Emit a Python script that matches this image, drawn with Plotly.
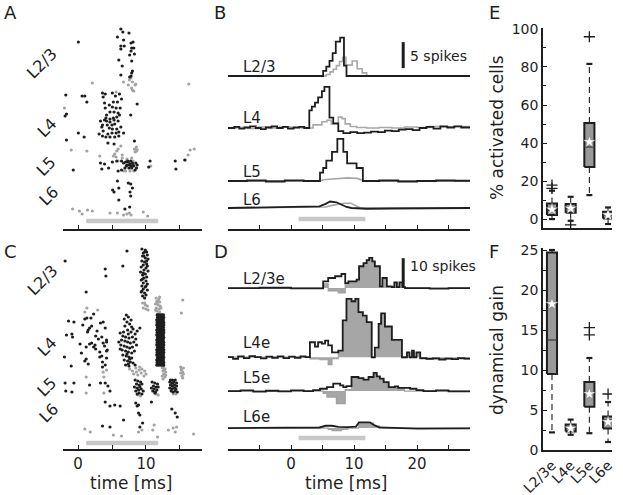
import plotly.graph_objects as go

W, H = 623, 495
FONT = "DejaVu Sans"
DARK = "#1e1e1e"
GRAY = "#a8a8a8"
BARC = "#c8c8c8"
BOXFILL = "#999999"

# ------------------------------------------------------------------ DATA
stim_window = [1.2, 11.8]          # stimulus (ms)

# Panel A raster: (time ms, neuron index)
A_black = [
 (6.3,200),(6.6,197),(7.5,196),(0.05,187),(5.8,192),(6.7,189),(7.8,186),(8.1,187),(6.3,183),(6.8,183),
 (7.9,181),(8.2,181),(6.3,180),(7.8,178),(7.6,174),(8.3,175),(6.0,169),(7.9,168),(6.5,163),(8.0,158),
 (7.9,156),(6.3,154),(7.8,153),(7.6,152),
 (-1.8,134),(0.6,133),(1.0,133),(1.3,127),(3.7,132),(4.0,135),(5.05,136),(5.5,133),(6.1,135),(6.4,130),
 (8.7,125),(3.9,126),(4.6,124),(5.2,127),(5.8,127),(5.05,122),(5.6,121),(6.2,121),(4.7,117),(5.3,117),
 (5.9,116),(6.1,114),(7.75,114),(-1.7,115),(-1.9,113),(4.0,121),(4.2,114),(4.1,111),(4.7,110),(5.2,111),
 (5.7,112),(3.6,136),
 (3.3,108),(3.9,109),(4.2,108),(4.7,107),(5.3,109),(5.9,108),(3.6,104),(4.3,104),(5.0,104),(5.4,105),
 (3.5,102),(4.6,101),(5.05,100),(5.7,100),(6.3,102),(6.7,96),(3.1,95),(3.7,98),(4.4,95),(5.0,96),
 (5.6,96),(6.0,97),(3.6,93),(4.1,92),(4.7,92),(5.4,92),(6.0,93),(0.05,96),(0.9,92),(-1.7,89),
 (4.4,86),(5.3,85),(8.3,88),
 (3.3,66),(3.9,65),(5.05,67),(5.7,68),(6.4,68),(7.0,67),(7.4,67),(7.75,68),(8.0,66),(8.5,66),
 (8.7,64),(7.2,64),(7.55,64),(8.2,63),(7.9,61),(8.6,61),(6.9,61),(6.4,59),(5.9,58),(3.5,60),
 (4.5,61),(10.6,68),(10.4,62),(14.3,68),(15.7,69),(14.4,60),(-0.7,59),
 (7.3,68),(7.65,65),(8.1,64),(7.8,63),(7.5,61),(8.4,59),(6.7,66),(7.1,63),
 (5.8,48),(5.1,39),(5.3,37),(6.0,41),(7.4,46),(7.75,45),(8.0,41),(7.65,37),(7.75,33),(6.0,29),
 (7.6,22),(6.9,20)]
A_gray = [
 (2.1,146),(6.7,147),(7.55,149),(7.75,151),(8.0,147),(8.4,144),(8.5,145),(7.4,144),(8.0,139),(8.2,138),
 (7.9,141),(16.3,145),(5.6,137),(-2.0,121),
 (-1.0,79),(1.3,78),(5.7,78),(5.9,80),(6.3,83),(5.4,75),(6.5,74),(8.4,80),(8.7,79),(8.6,78),
 (3.2,73),(5.2,73),(5.6,72),(6.5,71),(7.2,70),(7.9,71),(8.1,68),(6.7,58),(7.0,58),(7.65,58),
 (8.2,58),(10.7,63),(16.5,79),(17.1,80),(16.2,74),(15.8,69),(8.3,80),(8.6,82),(8.4,77),(5.9,68),
 (-0.8,20),(0.2,18),(0.6,15),(1.4,19),(2.1,18),(4.7,16),(5.8,16),(6.7,14),(7.2,15),(7.55,16),
 (7.8,14),(9.6,17),(10.25,13)]

# Panel C raster: (time ms, neuron index)
C_black = [
 (9.4,200),(9.9,199),(10.1,197),(9.6,196),(10.2,194),(9.5,193),(9.9,191),(10.3,190),(9.4,188),(9.8,187),
 (10.1,185),(9.6,184),(9.3,182),(10.0,181),(9.7,179),(10.3,178),(9.2,177),(9.9,175),(9.5,174),(10.1,172),
 (9.7,171),(9.3,169),(10.0,168),(9.6,166),(10.2,165),(9.4,163),(9.9,162),(9.6,160),(10.2,159),(9.3,157),
 (9.8,156),(10.0,154),(9.5,153),(9.8,151),(10.1,188),(9.7,193),(9.5,170),(10.0,163),(9.8,197),(9.4,158),
 (10.2,183),(9.6,176),
 (-1.9,188),(7.2,198),(6.6,183),(4.0,180),(4.1,173),(1.2,157),
 (1.0,130),(1.3,131),(1.9,131),(2.3,135),(-1.4,128),(-0.6,127),(3.7,127),(3.3,126),(4.0,121),(2.0,123),
 (1.7,121),(-0.9,115),(-1.7,114),(-0.8,112),(1.4,117),(0.3,105),(1.2,102),(1.7,105),(2.0,106),(2.3,102),
 (2.6,100),(2.5,104),(3.2,97),(3.5,112),(3.7,106),(3.9,103),(4.2,107),(4.2,98),(-2.0,92),(-1.0,83),
 (1.0,88),(1.5,85),(3.5,93),(3.6,87),(3.6,82),(3.3,66),(4.0,66),(4.4,63),(4.7,58),(-0.6,66),
 (-1.9,66),(-1.8,58),(-0.9,57),(1.7,64),
 (4.2,109),(4.3,99),(1.2,90),(3.2,92),(4.2,91),(4.0,84),(0.7,124),(2.8,118),(3.0,110),(1.5,119),
 (2.6,113),(0.5,96),
 (7.1,134),(7.4,132),(6.8,130),(7.8,129),(7.2,127),(7.6,125),(6.9,123),(7.9,122),(8.1,120),(7.3,119),
 (6.7,117),(7.8,117),(7.4,115),(8.4,115),(8.7,118),(9.1,121),
 (6.2,116),(6.6,113),(7.0,112),(7.5,111),(8.0,112),(6.4,109),(6.9,108),(7.3,107),(7.7,106),(8.2,107),
 (6.3,104),(6.8,103),(7.2,102),(7.6,101),(8.0,102),(6.5,99),(7.0,98),(7.4,97),(7.9,96),(8.3,98),
 (6.6,94),(7.1,93),(7.5,92),(7.9,91),(6.8,89),(7.3,88),(7.7,87),(8.1,86),(7.0,84),(7.5,83),
 (8.4,84),(6.2,100),(8.6,104),(8.5,110),(6.0,107),(7.2,95),(7.6,90),(7.4,85),
 (8.4,69),(8.8,68),(9.2,67),(8.6,65),(9.0,64),(9.4,65),(8.3,62),(8.7,61),(9.1,62),(8.9,59),
 (9.3,60),(8.5,58),(9.6,58),(9.0,56),(8.7,55),(9.4,55),
 (10.9,67),(11.3,66),(11.7,65),(11.1,63),(11.5,62),(10.8,61),(11.2,60),(11.6,59),(11.0,58),(11.4,57),
 (11.8,62),(11.3,56),
 (13.6,69),(13.9,69),(14.3,69),(13.5,67),(13.8,66),(14.1,67),(14.5,66),(13.6,64),(13.9,63),(14.2,64),
 (14.5,63),(13.5,61),(13.8,60),(14.1,61),(14.4,60),(13.7,58),(14.0,57),(14.3,58),(14.6,57),(13.9,66),
 (14.2,61),
 (4.0,47),(4.7,43),(5.4,44),(6.2,43),(6.7,29),(3.6,23),(4.7,22),(8.7,43),(8.9,36),(9.1,34),
 (9.5,26),(9.1,22),(10.8,47),(13.8,40),(14.3,36),(14.6,32),(8.5,46),(8.9,44)]
# dense burst in C (neuron index -> spike times)
C_block = {
 84:[11.6,11.85,12.1,12.35,12.6], 86.5:[11.65,11.9,12.15,12.4,12.6], 89:[11.6,11.8,12.1,12.35,12.55],
 91.5:[11.7,11.9,12.15,12.4,12.6], 94:[11.6,11.85,12.1,12.3,12.55], 96.5:[11.65,11.9,12.2,12.4,12.6],
 99:[11.6,11.85,12.1,12.35,12.6], 101.5:[11.7,11.95,12.15,12.4,12.55], 104:[11.6,11.85,12.1,12.35,12.6],
 106.5:[11.65,11.9,12.15,12.4,12.6], 109:[11.6,11.8,12.1,12.35,12.55], 111.5:[11.7,11.9,12.2,12.4,12.6],
 114:[11.6,11.85,12.1,12.3,12.55], 116.5:[11.65,11.9,12.15,12.4,12.6], 119:[11.6,11.85,12.1,12.35,12.6],
 121.5:[11.7,11.95,12.15,12.4,12.55], 124:[11.6,11.85,12.1,12.35,12.6], 126.5:[11.65,11.9,12.15,12.4,12.6],
 129:[11.6,11.8,12.1,12.35,12.55], 131.5:[11.7,11.9,12.2,12.4,12.6], 134:[11.65,11.9,12.1,12.35,12.55]}
C_gray = [
 (11.5,151),(11.9,150),(11.6,148),(12.0,147),(11.4,145),(11.8,144),(12.1,143),(11.5,141),(11.9,140),(11.6,138),
 (12.0,137),(11.7,135),(11.4,139),(12.2,141),(11.8,148),(11.6,146),(12.0,152),
 (9.5,146),(9.9,144),(10.2,143),(9.6,141),(10.0,140),(9.8,146),(10.3,139),
 (15.4,149),(15.2,136),(1.3,141),(2.9,139),(1.0,137),
 (12.4,81),(12.8,80),(12.5,78),(12.9,77),(12.6,75),(12.4,73),(12.8,72),(12.5,70),(12.9,74),(12.7,79),(12.6,82),
 (15.1,82),(15.5,81),(15.2,79),(15.4,77),(15.1,76),(15.5,75),(15.3,73),(15.2,80),(15.4,71),
 (7.6,80),(8.0,78),(8.5,81),(9.0,79),(9.4,80),(9.8,78),(8.2,75),(8.8,74),(9.3,76),(9.7,73),
 (8.6,77),(10.0,75),(9.1,82),
 (3.7,77),(3.8,72),(1.2,72),(1.2,56),(3.8,56),(4.2,79),
 (11.5,55),(11.8,54),(14.0,55),(14.4,55),(8.8,54),(9.2,53),
 (1.0,20),(1.8,17),(5.2,14),(6.4,13),(9.4,19),(11.0,19),(11.2,24),(11.7,12),(13.3,19),(14.0,21),
 (14.3,17),(14.5,22),(17.0,15),(8.9,17)]
raster_layers = ["L2/3", "L4", "L5", "L6"]

# Panel B PSTHs: (time ms, spikes above baseline)
B_L23_black = [(-10,0),(5.1,1.0),(5.6,1.8),(6.1,2.9),(6.6,4.4),(7.1,6.6),(7.8,7.4),(8.4,2.0),(8.8,0),(28.4,0)]
B_L23_gray = [(-10,0),(5.6,0.3),(6.2,0.8),(6.7,1.3),(7.2,2.0),(7.7,2.8),(8.2,3.6),(8.7,2.1),(9.7,2.9),
              (10.5,1.4),(11.3,0.6),(12.0,0),(28.4,0)]
B_L4_black = [(-10,0),(-9,0.2),(-8.2,-0.1),(-7.4,0.1),(-6.5,0.3),(-5.6,0),(-4.8,-0.2),(-4.0,0.1),(-3.1,0.3),
              (-2.2,0),(-1.3,0.2),(-0.5,-0.1),(0.4,0.1),(1.3,0.2),(2.1,0),(2.9,3.4),(3.3,4.1),(3.8,4.9),
              (4.3,5.9),(4.9,7.1),(5.3,7.9),(6.1,2.0),(6.7,0.9),(7.5,-0.6),(8.3,-1.0),(9.4,-0.8),(10.5,-1.0),
              (11.6,-0.9),(12.7,-0.7),(13.8,-0.8),(14.9,-0.5),(16.0,-0.6),(17.1,-0.3),(18.2,-0.2),(19.3,-0.4),
              (20.4,0.0),(21.5,0.2),(22.6,-0.1),(23.7,0.3),(24.8,0.1),(25.9,0.3),(27.0,0.1),(28.4,0.1)]
B_L4_gray = [(-10,0),(-8.6,0.1),(-6.9,-0.1),(-5.2,0.2),(-3.5,0),(-1.8,0.2),(0.0,0.1),(1.7,0),(3.5,0.6),
             (4.9,1.2),(5.7,1.5),(6.4,0.8),(7.5,2.1),(8.1,1.8),(8.6,0.8),(9.4,0.3),(10.4,0.1),(12.0,0.0),
             (14.0,0.1),(16.0,0.0),(18.0,0.2),(20.0,0.1),(22.0,0.3),(24.0,0.2),(26.0,0.3),(28.4,0.2)]
B_L5_black = [(-10,0),(-7,0.1),(-4,-0.1),(-1,0.1),(2,0),(4.6,1.6),(5.1,2.5),(5.6,3.9),(6.5,5.6),(7.35,8.1),
              (8.3,5.6),(8.9,3.4),(10.4,2.5),(11.4,0),(14,0.1),(17,-0.1),(20,0.0),(23,0.1),(26,0.05),(28.4,0.05)]
B_L5_gray = [(-10,0),(4.6,0.1),(5.5,0.3),(6.5,0.4),(7.5,0.5),(9.0,0.6),(10.5,0.5),(11.5,0.1),(12.5,0),(28.4,0)]
B_L6_black = [(-10,0),(4.5,0.3),(5.5,0.8),(6.2,1.25),(7.2,1.1),(8.0,0.6),(8.8,0.2),(9.6,0),(12,-0.15),
              (16,-0.1),(20,-0.05),(28.4,0)]
B_L6_gray = [(-10,0),(5.5,0.2),(6.5,0.5),(7.5,0.7),(8.5,0.9),(9.5,0.9),(10.3,0.4),(11,0),(28.4,0)]
B_labels = ["L2/3", "L4", "L5", "L6"]

# Panel D excess PSTHs: (time ms, spikes above baseline)
D_L23_black = [(-10,0),(-5,0.1),(0,-0.1),(5.1,2.3),(5.9,3.5),(7.0,4.1),(8.0,4.9),(8.6,1.7),(9.1,2.3),(10.4,2.9),
               (10.8,7.6),(11.5,8.7),(12.0,9.7),(12.4,10.5),(12.9,9.3),(13.3,7.6),(14.1,0.6),(14.5,3.5),
               (15.2,0.6),(16.0,0.3),(16.4,2.0),(16.8,0.3),(17.2,2.0),(17.7,0.3),(18.1,0),(22,-0.2),(25,0),(28.4,0)]
D_L23_gray = [(-10,0),(5.1,1.5),(5.9,-1.0),(7.5,-1.7),(8.6,1.4),(9.1,2.0),(10.4,2.6),(10.8,7.2),(11.5,8.4),
              (12.0,9.4),(12.4,10.2),(12.9,9.0),(13.3,7.2),(14.1,0.5),(14.5,3.2),(15.2,0.5),(16.0,0.2),
              (16.4,1.7),(16.8,0.2),(17.2,1.7),(17.7,0.2),(18.1,0),(28.4,0)]
D_L4_black = [(-10,0),(-9.2,-0.6),(-8.4,0.3),(-7.5,-0.3),(-6.6,0.4),(-5.7,0),(-4.8,-0.4),(-3.9,0.2),(-3.0,-0.2),
              (-2.1,0.3),(-1.2,-0.3),(-0.3,0.2),(0.6,-0.2),(1.5,0.3),(2.3,0),(3.0,5.2),(3.8,3.7),(4.3,5.2),
              (4.9,4.7),(5.4,5.8),(5.9,4.1),(6.5,1.7),(7.5,2.3),(8.2,12.8),(8.8,20.3),(9.6,19.5),(10.2,20.3),
              (10.7,15.7),(11.4,14.5),(12.0,12.2),(12.8,0),(13.3,3.3),(13.9,11.6),(14.3,15.3),(14.9,10.7),
              (16.0,6.0),(17.6,0),(18.4,1.7),(18.8,0),(19.2,2.3),(19.5,0),(19.9,1.7),(20.5,-0.3),(21.5,-0.6),
              (22.5,-0.4),(23.5,-0.8),(24.5,-0.5),(25.5,-0.7),(26.5,-0.3),(27.5,-0.5),(28.4,-0.5)]
D_L4_gray = [(-10,0),(3.0,-0.6),(4.6,-0.9),(5.9,-2.6),(6.5,-0.5),(7.5,2.0),(8.2,12.3),(8.8,19.8),(9.6,19.0),
             (10.2,19.8),(10.7,15.3),(11.4,14.0),(12.0,11.8),(12.8,-0.3),(13.3,2.8),(13.9,11.2),(14.3,14.8),
             (14.9,10.3),(16.0,5.6),(17.6,-0.3),(18.4,1.3),(18.8,-0.3),(19.2,1.8),(19.5,-0.3),(19.9,1.3),
             (20.5,-0.6),(28.4,-0.6)]
D_L5_black = [(-10,0),(-8,0.2),(-6,-0.2),(-4,0.1),(-2,-0.1),(0,0.2),(2,0),(3.5,0.3),(4.6,0.8),(5.7,1.4),
              (6.7,2.6),(7.8,2.0),(8.3,1.4),(8.8,1.7),(9.6,4.9),(10.7,4.5),(11.5,4.0),(12.3,4.9),(13.1,6.3),
              (13.6,5.1),(14.1,4.3),(14.7,3.1),(15.5,1.4),(16.5,1.6),(17.0,1.1),(18.9,0.8),(19.9,0.3),
              (21.0,0),(23,0.2),(25,-0.1),(28.4,0)]
D_L5_gray = [(-10,0),(5.1,-0.8),(5.7,-2.1),(7.2,-4.4),(8.6,0.5),(9.6,4.6),(10.7,4.2),(11.5,3.7),(12.3,4.6),
             (13.1,6.0),(13.6,4.8),(14.1,4.0),(14.7,2.8),(15.5,1.1),(17.0,0.8),(18.0,0),(28.4,0)]
D_L6_black = [(-10,0),(4.5,0.2),(5.5,0.8),(6.5,0.8),(7.5,0.4),(9.0,0.3),(10.3,0.5),(10.8,2.0),(12.5,2.0),
              (13.2,1.0),(14.0,0.2),(16.0,0),(20,-0.2),(28.4,-0.1)]
D_L6_gray = [(-10,0),(5.9,-0.5),(6.5,-0.9),(8.0,-0.5),(9.0,0),(10.7,1.7),(13.1,0.8),(14.0,0),(28.4,0)]
D_labels = ["L2/3e", "L4e", "L5e", "L6e"]

# Panel E: % activated cells (box statistics)
E_cats = ["L2/3", "L4", "L5", "L6"]
E_q1 = [2.1, 3.3, 27.4, 0.3]
E_med = [4.5, 5.6, 37.9, 2.1]
E_q3 = [8.2, 7.9, 50.5, 3.8]
E_lo = [0.0, -0.9, 12.6, -2.6]
E_hi = [14.9, 11.7, 81.6, 6.1]
E_mean = [5.1, 5.6, 40.6, 2.1]
E_out_cat = [1, 1, 2, 3]
E_out_val = [17.8, 16.1, -3.1, 95.9]

# Panel F: dynamical gain (box statistics)
F_cats = ["L2/3e", "L4e", "L5e", "L6e"]
F_q1 = [9.5, 2.3, 5.4, 2.7]
F_med = [13.75, 2.7, 7.1, 3.75]
F_q3 = [24.7, 3.2, 8.5, 4.2]
F_lo = [2.2, 1.9, 2.1, 1.0]
F_hi = [25.0, 3.8, 11.5, 6.0]
F_mean = [18.25, 2.7, 7.0, 3.5]
F_out_cat = [3, 3, 4]
F_out_val = [14.4, 15.3, 7.0]

# ------------------------------------------------------------------ LAYOUT HELPERS
def fx(p):
    return p / W

def fy(p):
    return 1 - p / H

B_offsets = [25.38, 15.38, 5.19, 0.0]
D_offsets = [48.8, 24.7, 12.9, 0.0]

fig = go.Figure()

def raster(pts, color, xa, ya, size=3.2):
    fig.add_trace(go.Scatter(x=[p[0] for p in pts], y=[p[1] for p in pts], mode="markers",
                             marker=dict(color=color, size=size, line=dict(width=0)),
                             xaxis=xa, yaxis=ya, hoverinfo="skip"))

def stim(xa, ya, yv):
    fig.add_trace(go.Scatter(x=stim_window, y=[yv, yv], mode="lines",
                             line=dict(color=BARC, width=4.5), xaxis=xa, yaxis=ya, hoverinfo="skip"))

def trace(pts, off, color, width, xa, ya, shape="hv"):
    fig.add_trace(go.Scatter(x=[p[0] for p in pts], y=[off + p[1] for p in pts], mode="lines",
                             line=dict(color=color, width=width, shape=shape),
                             xaxis=xa, yaxis=ya, hoverinfo="skip"))

def filled(pts, off, xa, ya):
    fig.add_trace(go.Scatter(x=[pts[0][0], pts[-1][0]], y=[off, off], mode="lines",
                             line=dict(width=0, color=GRAY), xaxis=xa, yaxis=ya, hoverinfo="skip"))
    fig.add_trace(go.Scatter(x=[p[0] for p in pts], y=[off + p[1] for p in pts], mode="lines",
                             line=dict(color="#a0a0a0", width=1.2, shape="hv"), fill="tonexty",
                             fillcolor="#a6a6a6", xaxis=xa, yaxis=ya, hoverinfo="skip"))

# A
stim("x", "y", 8)
raster(A_gray, "#a3a3a3", "x", "y")
raster(A_black, DARK, "x", "y")
# C
stim("x3", "y3", 6)
raster(C_gray, "#a3a3a3", "x3", "y3")
block = [(t, n) for n, ts in C_block.items() for t in ts]
raster(block, DARK, "x3", "y3", size=3.4)
raster(C_black, DARK, "x3", "y3")

# B
stim("x2", "y2", -2.1)
for g, b, off, sh in [(B_L23_gray, B_L23_black, B_offsets[0], "hv"),
                      (B_L4_gray, B_L4_black, B_offsets[1], "hv"),
                      (B_L5_gray, B_L5_black, B_offsets[2], "hv"),
                      (B_L6_gray, B_L6_black, B_offsets[3], "linear")]:
    trace(g, off, GRAY, 1.6, "x2", "y2", shape="linear" if sh == "linear" or g is B_L5_gray else "hv")
    trace(b, off, DARK, 1.8, "x2", "y2", shape=sh)
fig.add_trace(go.Scatter(x=[17.8, 17.8], y=[26.9, 31.9], mode="lines", line=dict(color=DARK, width=3),
                         xaxis="x2", yaxis="y2", hoverinfo="skip"))

# D
stim("x4", "y4", -3.5)
for g, b, off, sh in [(D_L23_gray, D_L23_black, D_offsets[0], "hv"),
                      (D_L4_gray, D_L4_black, D_offsets[1], "hv"),
                      (D_L5_gray, D_L5_black, D_offsets[2], "hv"),
                      (D_L6_gray, D_L6_black, D_offsets[3], "linear")]:
    filled(g, off, "x4", "y4")
    trace(b, off, DARK, 1.8, "x4", "y4", shape=sh)
fig.add_trace(go.Scatter(x=[17.8, 17.8], y=[49.1, 59.2], mode="lines", line=dict(color=DARK, width=3),
                         xaxis="x4", yaxis="y4", hoverinfo="skip"))

# boxes
def boxes(q1, med, q3, lo, hi, mean, oc, ov, xa, ya, hw=0.27, cw=0.16):
    n = len(q1)
    for i in range(n):
        c = i + 1
        fig.add_trace(go.Scatter(x=[c, c, None, c, c], y=[q3[i], hi[i], None, q1[i], lo[i]], mode="lines",
                                 line=dict(color=DARK, width=1.1, dash="6px,4px"), xaxis=xa, yaxis=ya,
                                 hoverinfo="skip"))
        fig.add_trace(go.Scatter(x=[c - cw, c + cw, None, c - cw, c + cw], y=[hi[i], hi[i], None, lo[i], lo[i]],
                                 mode="lines", line=dict(color=DARK, width=2.2), xaxis=xa, yaxis=ya,
                                 hoverinfo="skip"))
        fig.add_trace(go.Scatter(x=[c - hw, c + hw, c + hw, c - hw, c - hw], y=[q1[i], q1[i], q3[i], q3[i], q1[i]],
                                 mode="lines", fill="toself", fillcolor=BOXFILL,
                                 line=dict(color=DARK, width=2), xaxis=xa, yaxis=ya, hoverinfo="skip"))
        fig.add_trace(go.Scatter(x=[c - hw, c + hw], y=[med[i], med[i]], mode="lines",
                                 line=dict(color="#333333", width=1.2), xaxis=xa, yaxis=ya, hoverinfo="skip"))
    fig.add_trace(go.Scatter(x=oc, y=ov, mode="markers",
                             marker=dict(symbol="cross-thin", size=8, line=dict(color=DARK, width=1.3)),
                             xaxis=xa, yaxis=ya, hoverinfo="skip"))
    fig.add_trace(go.Scatter(x=list(range(1, n + 1)), y=mean, mode="markers",
                             marker=dict(symbol="star", size=9, color="white", line=dict(color="#777", width=0.5)),
                             xaxis=xa, yaxis=ya, hoverinfo="skip"))

boxes(E_q1, E_med, E_q3, E_lo, E_hi, E_mean, E_out_cat, E_out_val, "x5", "y5")
boxes(F_q1, F_med, F_q3, F_lo, F_hi, F_mean, F_out_cat, F_out_val, "x6", "y6")

# ------------------------------------------------------------------ AXES
tf = dict(family=FONT, size=15, color=DARK)
base_x = dict(showline=True, linecolor=DARK, linewidth=1.5, ticks="inside", ticklen=4, tickcolor=DARK,
              tickwidth=1.2, showgrid=False, zeroline=False, tickfont=tf, automargin=False)
hid_y = dict(visible=False, showgrid=False, zeroline=False, automargin=False)
xa_rast = [fx(63), fx(202)]
xa_psth = [fx(228), fx(470)]
xa_box = [fx(543), fx(612)]
top_dom = [fy(229), fy(25)]
bot_dom = [fy(449), fy(245)]

layout = dict(
    width=W, height=H, margin=dict(l=0, r=0, t=0, b=0, autoexpand=False), showlegend=False,
    paper_bgcolor="white", plot_bgcolor="white", font=dict(family=FONT, color=DARK),
    xaxis=dict(base_x, domain=xa_rast, range=[-2.21, 18.24], anchor="y", tickvals=[0, 5, 10, 15],
               showticklabels=False),
    yaxis=dict(hid_y, domain=top_dom, range=[0, 204], anchor="x"),
    xaxis2=dict(base_x, domain=xa_psth, range=[-10, 28.4], anchor="y2", tickvals=list(range(-10, 30, 5)),
                showticklabels=False),
    yaxis2=dict(hid_y, domain=top_dom, range=[-4.04, 35.19], anchor="x2"),
    xaxis3=dict(base_x, domain=xa_rast, range=[-2.21, 18.24], anchor="y3", tickvals=[0, 5, 10, 15],
                ticktext=["0", "", "10", ""]),
    yaxis3=dict(hid_y, domain=bot_dom, range=[0, 204], anchor="x3"),
    xaxis4=dict(base_x, domain=xa_psth, range=[-10, 28.4], anchor="y4", tickvals=list(range(-10, 30, 5)),
                ticktext=["", "", "0", "", "10", "", "20", ""]),
    yaxis4=dict(hid_y, domain=bot_dom, range=[-7.3, 63.8], anchor="x4"),
    xaxis5=dict(domain=xa_box, range=[0.52, 4.21], anchor="y5", showline=True, linecolor=DARK, linewidth=1.5,
                showticklabels=False, ticks="", showgrid=False, zeroline=False, automargin=False),
    yaxis5=dict(domain=[fy(228), fy(28)], range=[-4.7, 100.5], anchor="x5", showline=True, linecolor=DARK,
                linewidth=1.5, ticks="inside", ticklen=4, tickcolor=DARK, tickvals=[0, 20, 40, 60, 80, 100],
                minor=dict(ticks="inside", ticklen=3, tickcolor=DARK, dtick=10, tick0=0), automargin=False,
                showgrid=False, zeroline=False, tickfont=dict(family=FONT, size=14, color=DARK)),
    xaxis6=dict(domain=xa_box, range=[0.52, 4.21], anchor="y6", showline=True, linecolor=DARK, linewidth=1.5,
                tickvals=[1, 2, 3, 4], ticktext=F_cats, tickangle=-45, ticks="", showgrid=False, zeroline=False,
                tickfont=dict(family=FONT, size=14, color=DARK), automargin=False),
    yaxis6=dict(domain=[fy(450), fy(248)], range=[0, 25.25], anchor="x6", showline=True, linecolor=DARK,
                linewidth=1.5, ticks="inside", ticklen=4, tickcolor=DARK, tickvals=[0, 5, 10, 15, 20, 25],
                minor=dict(ticks="inside", ticklen=3, tickcolor=DARK, dtick=2.5, tick0=0), automargin=False,
                showgrid=False, zeroline=False, tickfont=dict(family=FONT, size=14, color=DARK)),
)
fig.update_layout(**layout)

# ------------------------------------------------------------------ TEXT
ann = []
def txt(s, x, y, size=16, angle=0, xanchor="center", yanchor="middle"):
    ann.append(dict(text=s, x=fx(x), y=fy(y), xref="paper", yref="paper", showarrow=False,
                    font=dict(family=FONT, size=size, color=DARK), textangle=angle,
                    xanchor=xanchor, yanchor=yanchor))

for s, x, y in [("A", 2, 13), ("B", 212, 13), ("E", 487, 13), ("C", 2, 252), ("D", 212, 252), ("F", 487, 252)]:
    txt(s, x, y, size=18, xanchor="left")

for lab, (x, y) in zip(raster_layers, [(42, 64), (47, 127), (46, 167), (48, 196)]):
    txt(lab, x, y, size=16, angle=-45)
for lab, (x, y) in zip(raster_layers, [(42, 280), (47, 346), (46, 387), (48, 413)]):
    txt(lab, x, y, size=16, angle=-45)
for lab, y in zip(B_labels, [67, 118, 172, 200]):
    txt(lab, 241, y, size=15, xanchor="left")
for lab, y in zip(D_labels, [279, 343, 378, 417]):
    txt(lab, 241, y, size=15, xanchor="left")

txt("5 spikes", 408, 56, size=14, xanchor="left")
txt("10 spikes", 408, 266, size=14, xanchor="left")
txt("time [ms]", 131, 483, size=17)
txt("time [ms]", 346, 483, size=17)
txt("% activated cells", 497, 127, size=17, angle=-90)
txt("dynamical gain", 497, 350, size=17, angle=-90)
fig.update_layout(annotations=ann)

fig.write_html("out.html", config={"displayModeBar": False},
               post_script="document.body.style.margin='0';document.body.style.overflow='hidden';")
